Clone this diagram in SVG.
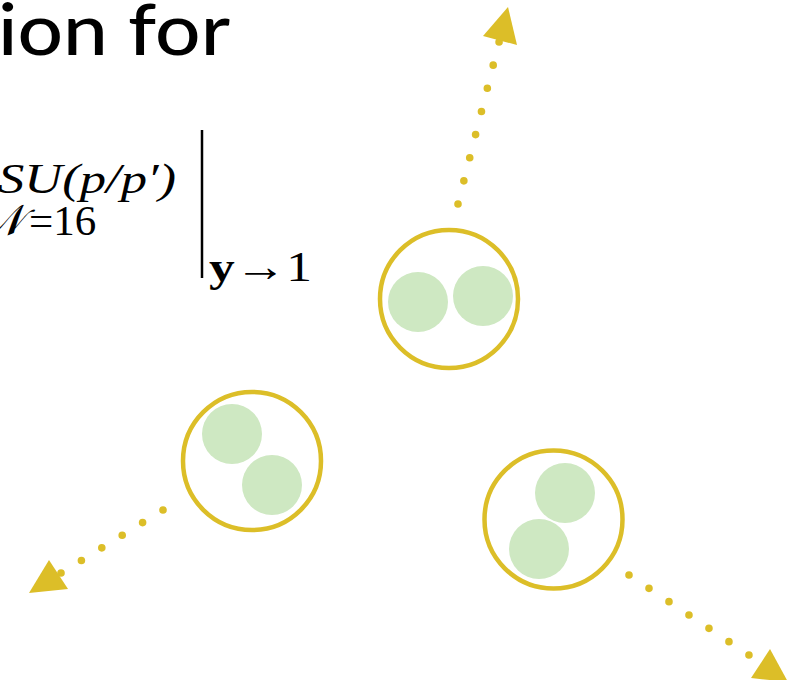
<svg xmlns="http://www.w3.org/2000/svg" width="789" height="680" viewBox="0 0 789 680">
<style>
.ring{fill:#fff;stroke:#DCBE28;stroke-width:4.5}
.ball{fill:#CEE8C2}
.dots{fill:none;stroke:#DCBE28;stroke-width:7.6;stroke-linecap:round}
.head{fill:#DCBE28}
.title{font-family:Lato,"Open Sans",sans-serif;font-size:72px;font-weight:500;fill:#000}
.math{font-family:"Liberation Serif","DejaVu Serif",serif;font-size:43px;fill:#000}
</style>
<rect width="789" height="680" fill="#fff"/>
<text class="title" x="-2" y="55" textLength="232" lengthAdjust="spacingAndGlyphs">ion for</text>
<g id="formula">
<text class="math" x="-2" y="193" font-style="italic" textLength="178" lengthAdjust="spacingAndGlyphs">SU(p/p′)</text>
<text class="math" x="-18" y="235"><tspan font-style="italic">𝒩</tspan><tspan dx="6">=16</tspan></text>
<line x1="202" y1="130" x2="202" y2="278" stroke="#000" stroke-width="2.5"/>
<text class="math" x="209" y="281" font-size="31" textLength="103" lengthAdjust="spacingAndGlyphs"><tspan font-weight="bold">y</tspan>→1</text>
</g>
<g id="connectors">
<line class="dots" x1="458" y1="204" x2="499.2" y2="41.5" stroke-dasharray="0 23.87"/>
<polygon class="head" points="508,7 483,36 517,45"/>
<line class="dots" x1="163" y1="510" x2="60.6" y2="573.3" stroke-dasharray="0 23.98"/>
<polygon class="head" points="29,593 49,560 68,589"/>
<line class="dots" x1="629" y1="575" x2="749.4" y2="655.3" stroke-dasharray="0 24.03"/>
<polygon class="head" points="788,682 770,649 751,678"/>
</g>
<g id="node-top">
<circle class="ring" cx="449" cy="299" r="69"/>
<circle class="ball" cx="418" cy="302" r="30"/>
<circle class="ball" cx="483" cy="296" r="30"/>
</g>
<g id="node-left">
<circle class="ring" cx="252" cy="461" r="69"/>
<circle class="ball" cx="232" cy="434" r="30"/>
<circle class="ball" cx="272" cy="485" r="30"/>
</g>
<g id="node-right">
<circle class="ring" cx="553.5" cy="519.5" r="69"/>
<circle class="ball" cx="565" cy="493" r="30"/>
<circle class="ball" cx="539" cy="549" r="30"/>
</g>
</svg>
